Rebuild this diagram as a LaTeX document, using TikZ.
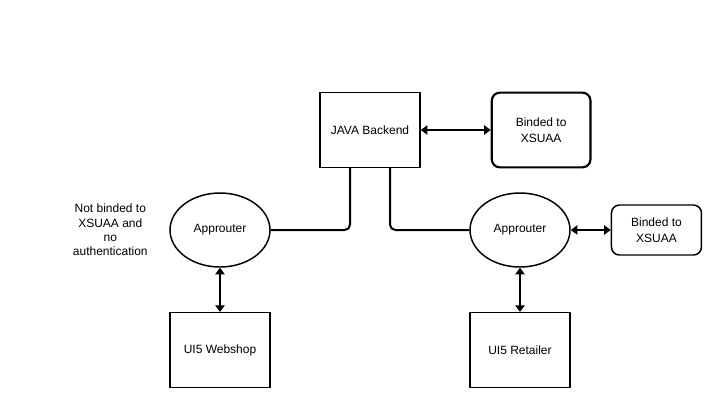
\documentclass[tikz,border=0pt]{standalone}
\usepackage{fontspec}
\setmainfont{Liberation Sans}
\usepackage{tikz}
\usetikzlibrary{positioning, shapes.geometric, arrows.meta}
\tikzset{
x=0.75pt, y=-0.75pt, % one unit is one pixel of the sketch
>={Triangle[width=7pt,length=5pt]}, % filled heads on the links
every node/.style={font=\fontsize{9}{12}\selectfont, align=center, inner sep=0pt},
block/.style={draw, line width=1.1pt, minimum width=75pt, minimum height=56pt}, % plain boxes
approuter/.style={draw, ellipse, line width=1.1pt, minimum width=75pt, minimum height=55.5pt},
service/.style={draw, rounded corners=6pt, line width=1.1pt}, % the XSUAA boxes
link/.style={line width=1.5pt, rounded corners=4pt},
}
\begin{document}
\begin{tikzpicture}
\useasboundingbox (0,0) rectangle (720,408);

            \node[block] (java) at (370,130) {JAVA Backend};
            \node[service, line width=1.6pt, minimum width=74pt, minimum height=56pt, right=52.5pt of java] (xsuaa1) {Binded to\\XSUAA};

            \node[approuter] (ar1) at (220,230) {Approuter};
            \node[approuter] (ar2) at (520,230) {Approuter};
            \node[service, minimum width=67.5pt, minimum height=37.5pt, right=30pt of ar2] (xsuaa2) {Binded to\\XSUAA};
            \node[font=\fontsize{9}{10.7}\selectfont, left=16pt of ar1] (note) {Not binded to\\XSUAA and\\no\\authentication};

            \node[block] (shop) at (220,350) {UI5 Webshop};
            \node[block] (retail) at (520,350) {UI5 Retailer};

            \draw[link, <->] (java) -- (xsuaa1);
            \draw[link, <->] (ar2) -- (xsuaa2);
            \draw[link] ([xshift=-15pt]java.south) |- (ar1.east);
            \draw[link] ([xshift=15pt]java.south) |- (ar2.west);
            \draw[link, <->] (ar1) -- (shop);
            \draw[link, <->] (ar2) -- (retail);
        \end{tikzpicture}
\end{document}
